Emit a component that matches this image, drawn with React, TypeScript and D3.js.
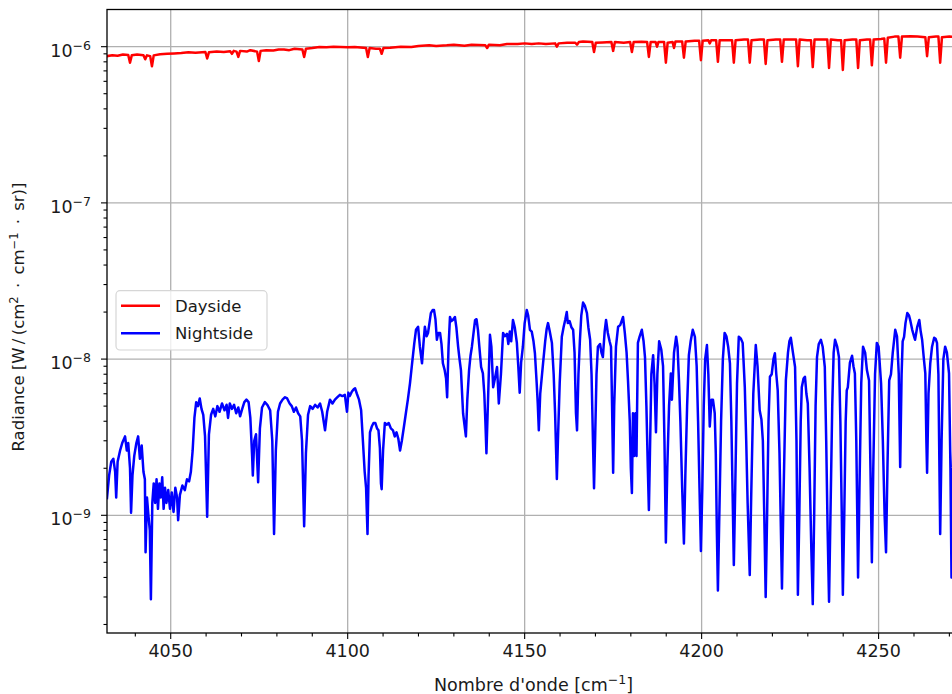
import React, { useRef, useEffect } from "react";
import * as d3 from "d3";

// Nombre d'onde [cm^-1], radiance [W / (cm2 . cm-1 . sr)]
const dayside: [number, number][] = [
  [4032.0, 8.7e-7], [4033.5, 8.8e-7], [4035.0, 8.75e-7], [4036.5, 8.9e-7], [4038.0, 8.85e-7],
  [4038.5, 7.9e-7], [4039.0, 8.8e-7], [4040.5, 8.9e-7], [4042.3, 8.8e-7], [4042.8, 8.3e-7],
  [4043.3, 8.8e-7], [4044.2, 8.7e-7], [4044.7, 7.5e-7], [4045.2, 8.8e-7], [4047, 8.95e-7],
  [4049, 9.0e-7], [4051, 9.05e-7], [4053, 9.1e-7], [4055, 9.2e-7], [4057, 9.15e-7],
  [4059.8, 9.25e-7], [4060.3, 8.4e-7], [4060.8, 9.2e-7], [4063, 9.3e-7], [4065, 9.25e-7],
  [4066.8, 9.35e-7], [4067.3, 9.0e-7], [4067.8, 9.4e-7], [4068.6, 9.3e-7], [4069.1, 8.6e-7],
  [4069.6, 9.4e-7], [4071.5, 9.3e-7], [4072.5, 9.5e-7], [4074.4, 9.3e-7], [4074.9, 8.1e-7],
  [4075.4, 9.4e-7], [4077, 9.5e-7], [4079, 9.45e-7], [4080.5, 9.6e-7], [4082, 9.6e-7],
  [4083.5, 9.5e-7], [4085, 9.7e-7], [4087.2, 9.6e-7], [4087.7, 8.6e-7], [4088.2, 9.7e-7],
  [4090, 9.8e-7], [4092, 9.95e-7], [4094, 9.9e-7], [4096, 1.0e-6], [4098, 9.95e-7],
  [4100, 9.9e-7], [4102, 9.95e-7], [4105.2, 9.8e-7], [4105.7, 8.6e-7], [4106.2, 9.8e-7],
  [4108, 9.7e-7], [4109.1, 9.7e-7], [4109.6, 9.0e-7], [4110.1, 9.8e-7], [4112, 9.85e-7],
  [4115, 1.0e-6], [4118, 9.95e-7], [4120, 1.01e-6], [4123, 1.02e-6], [4125, 1.01e-6],
  [4128, 1.02e-6], [4130, 1.03e-6], [4133, 1.015e-6], [4135, 1.03e-6], [4138.9, 1.02e-6],
  [4139.4, 9.8e-7], [4139.9, 1.03e-6], [4143, 1.02e-6], [4145, 1.04e-6], [4148, 1.04e-6],
  [4150, 1.05e-6], [4152, 1.04e-6], [4154, 1.05e-6], [4156, 1.04e-6], [4158.6, 1.05e-6],
  [4159.1, 1.0e-6], [4159.6, 1.05e-6], [4162, 1.06e-6], [4164.3, 1.06e-6], [4164.8, 1.03e-6],
  [4165.3, 1.07e-6], [4166.5, 1.08e-6], [4169.1, 1.07e-6], [4169.6, 9.25e-7], [4170.1, 1.06e-6],
  [4172, 1.065e-6], [4174.5, 1.07e-6], [4175.0, 9.4e-7], [4175.5, 1.07e-6], [4178, 1.06e-6],
  [4179.8, 1.07e-6], [4180.3, 9.25e-7], [4180.8, 1.07e-6], [4183, 1.075e-6], [4184.6, 1.07e-6],
  [4185.1, 8.6e-7], [4185.6, 1.07e-6], [4187.0, 1.07e-6], [4187.4, 1.0e-6], [4187.8, 1.07e-6],
  [4189.4, 1.07e-6], [4189.9, 7.9e-7], [4190.4, 1.06e-6], [4191.8, 1.07e-6], [4192.2, 9.8e-7],
  [4192.6, 1.08e-6], [4194.5, 1.08e-6], [4195.0, 8.5e-7], [4195.5, 1.08e-6], [4198, 1.09e-6],
  [4199.3, 1.09e-6], [4199.8, 8.2e-7], [4200.3, 1.09e-6], [4201.9, 1.1e-6], [4202.3, 1.05e-6],
  [4202.7, 1.1e-6], [4204.1, 1.1e-6], [4204.6, 8.0e-7], [4205.1, 1.1e-6], [4207.5, 1.1e-6],
  [4208.6, 1.1e-6], [4209.1, 7.9e-7], [4209.6, 1.1e-6], [4212, 1.11e-6], [4213.1, 1.11e-6],
  [4213.6, 7.9e-7], [4214.1, 1.1e-6], [4216.5, 1.11e-6], [4217.6, 1.11e-6], [4218.1, 7.75e-7],
  [4218.6, 1.1e-6], [4221, 1.11e-6], [4222.2, 1.11e-6], [4222.7, 8.0e-7], [4223.2, 1.11e-6],
  [4225.5, 1.11e-6], [4226.7, 1.11e-6], [4227.2, 7.5e-7], [4227.7, 1.11e-6], [4229.8, 1.1e-6],
  [4230.9, 1.1e-6], [4231.4, 7.4e-7], [4231.9, 1.11e-6], [4234.3, 1.11e-6], [4235.5, 1.11e-6],
  [4236.0, 7.3e-7], [4236.5, 1.11e-6], [4238.5, 1.1e-6], [4239.4, 1.1e-6], [4239.9, 7.1e-7],
  [4240.4, 1.1e-6], [4242.6, 1.11e-6], [4243.7, 1.11e-6], [4244.2, 7.3e-7], [4244.7, 1.1e-6],
  [4246.7, 1.11e-6], [4247.6, 1.11e-6], [4248.1, 7.6e-7], [4248.6, 1.11e-6], [4250.7, 1.12e-6],
  [4251.6, 1.13e-6], [4252.1, 7.9e-7], [4252.6, 1.14e-6], [4254.5, 1.16e-6], [4255.6, 1.16e-6],
  [4256.1, 8.5e-7], [4256.6, 1.16e-6], [4259, 1.165e-6], [4261, 1.16e-6], [4263.2, 1.15e-6],
  [4263.7, 8.7e-7], [4264.2, 1.15e-6], [4266.2, 1.16e-6], [4266.9, 1.16e-6], [4267.4, 7.9e-7],
  [4267.9, 1.15e-6], [4270, 1.16e-6], [4272.5, 1.15e-6],
];

const nightside: [number, number][] = [
  [4032.0, 1.29e-9], [4032.6, 1.8e-9], [4033.2, 2.2e-9], [4033.8, 2.3e-9], [4034.3, 1.9e-9],
  [4034.6, 1.3e-9], [4035.0, 2.2e-9], [4035.7, 2.6e-9], [4036.3, 2.9e-9], [4037.1, 3.2e-9],
  [4037.6, 2.6e-9], [4038.0, 2.9e-9], [4038.5, 2.0e-9], [4038.8, 1.04e-9], [4039.2, 1.8e-9],
  [4039.7, 2.4e-9], [4040.3, 2.9e-9], [4040.8, 3.2e-9], [4041.3, 2.3e-9], [4041.8, 2.8e-9],
  [4042.3, 1.9e-9], [4042.7, 1.7e-9], [4042.9, 5.8e-10], [4043.3, 1.3e-9], [4043.7, 1.0e-9],
  [4044.1, 8.0e-10], [4044.4, 2.9e-10], [4044.8, 1.2e-9], [4045.2, 1.6e-9], [4045.6, 1.2e-9],
  [4046.0, 1.7e-9], [4046.4, 1.1e-9], [4046.8, 1.6e-9], [4047.2, 1.3e-9], [4047.6, 1.75e-9],
  [4048.0, 1.1e-9], [4048.4, 1.5e-9], [4048.8, 1.2e-9], [4049.3, 1.45e-9], [4049.8, 1.1e-9],
  [4050.3, 1.4e-9], [4050.8, 1.05e-9], [4051.3, 1.5e-9], [4051.8, 1.3e-9], [4052.1, 9.3e-10],
  [4052.6, 1.35e-9], [4053.3, 1.55e-9], [4054.0, 1.45e-9], [4054.6, 1.7e-9], [4055.2, 1.65e-9],
  [4055.7, 1.9e-9], [4056.2, 2.6e-9], [4056.7, 4.2e-9], [4057.2, 5.3e-9], [4057.7, 5.0e-9],
  [4058.2, 5.6e-9], [4058.7, 4.8e-9], [4059.2, 4.4e-9], [4059.7, 3.2e-9], [4060.3, 9.8e-10],
  [4060.8, 3.3e-9], [4061.4, 4.4e-9], [4062.0, 4.8e-9], [4062.6, 4.3e-9], [4063.2, 5.0e-9],
  [4063.8, 4.6e-9], [4064.5, 5.2e-9], [4065.2, 4.7e-9], [4065.8, 5.1e-9], [4066.2, 4.2e-9],
  [4066.7, 5.2e-9], [4067.3, 4.8e-9], [4067.9, 5.1e-9], [4068.5, 4.5e-9], [4069.1, 4.9e-9],
  [4069.6, 4.3e-9], [4070.2, 4.8e-9], [4070.8, 5.3e-9], [4071.4, 5.5e-9], [4072.0, 5.3e-9],
  [4072.5, 4.2e-9], [4073.0, 2.4e-9], [4073.2, 1.8e-9], [4073.6, 3.0e-9], [4074.1, 3.3e-9],
  [4074.7, 1.63e-9], [4075.2, 3.6e-9], [4075.8, 4.9e-9], [4076.6, 5.3e-9], [4077.3, 5.1e-9],
  [4078.1, 4.7e-9], [4078.7, 3.0e-9], [4079.2, 7.6e-10], [4079.7, 2.6e-9], [4080.3, 4.6e-9],
  [4080.9, 5.2e-9], [4081.6, 5.5e-9], [4082.3, 5.7e-9], [4082.9, 5.6e-9], [4083.6, 5.2e-9],
  [4084.2, 5.0e-9], [4084.8, 4.6e-9], [4085.4, 4.9e-9], [4086.0, 4.5e-9], [4086.6, 4.3e-9],
  [4087.1, 3.0e-9], [4087.7, 8.5e-10], [4088.2, 2.5e-9], [4088.8, 4.4e-9], [4089.4, 5.0e-9],
  [4090.1, 4.8e-9], [4090.8, 5.1e-9], [4091.5, 4.9e-9], [4092.2, 5.2e-9], [4092.8, 4.6e-9],
  [4093.6, 3.5e-9], [4094.2, 4.6e-9], [4095.0, 5.5e-9], [4095.7, 5.2e-9], [4096.4, 5.5e-9],
  [4097.1, 5.7e-9], [4097.8, 5.9e-9], [4098.5, 5.8e-9], [4099.2, 5.9e-9], [4099.8, 4.6e-9],
  [4100.2, 6.1e-9], [4100.6, 5.8e-9], [4101.2, 6.2e-9], [4101.7, 6.4e-9], [4102.1, 6.5e-9],
  [4102.6, 6.0e-9], [4103.2, 5.5e-9], [4103.8, 4.7e-9], [4104.3, 3.0e-9], [4104.8, 1.9e-9],
  [4105.2, 1.5e-9], [4105.6, 7.6e-10], [4105.9, 1.8e-9], [4106.3, 3.4e-9], [4106.8, 3.7e-9],
  [4107.3, 3.9e-9], [4107.8, 3.9e-9], [4108.3, 3.6e-9], [4108.7, 3.5e-9], [4109.1, 2.7e-9],
  [4109.4, 1.6e-9], [4109.6, 1.47e-9], [4110.0, 2.6e-9], [4110.5, 3.9e-9], [4111.0, 3.8e-9],
  [4111.6, 3.9e-9], [4112.2, 3.6e-9], [4112.8, 3.5e-9], [4113.3, 3.2e-9], [4113.8, 3.4e-9],
  [4114.3, 3.1e-9], [4114.8, 2.6e-9], [4115.3, 3.0e-9], [4115.9, 3.7e-9], [4116.5, 4.6e-9],
  [4117.0, 5.5e-9], [4117.6, 7.0e-9], [4118.2, 9.4e-9], [4118.8, 1.25e-8], [4119.3, 1.54e-8],
  [4119.9, 1.61e-8], [4120.4, 1.2e-8], [4121.0, 9.4e-9], [4121.4, 1.25e-8], [4121.8, 1.61e-8],
  [4122.3, 1.4e-8], [4122.7, 1.47e-8], [4123.1, 1.7e-8], [4123.5, 1.97e-8], [4124.0, 2.06e-8],
  [4124.4, 2.06e-8], [4124.8, 1.8e-8], [4125.2, 1.33e-8], [4125.6, 1.47e-8], [4126.1, 1.47e-8],
  [4126.5, 1.25e-8], [4126.9, 9.4e-9], [4127.4, 8.5e-9], [4127.8, 7.5e-9], [4128.1, 5.7e-9],
  [4128.5, 1.2e-8], [4128.9, 1.86e-8], [4129.3, 1.75e-8], [4129.7, 1.78e-8], [4130.3, 1.86e-8],
  [4130.7, 1.6e-8], [4131.2, 1.2e-8], [4131.6, 1.0e-8], [4132.0, 8.5e-9], [4132.6, 4.5e-9],
  [4133.0, 3.8e-9], [4133.4, 3.2e-9], [4133.8, 5.5e-9], [4134.3, 8.5e-9], [4134.7, 1.05e-8],
  [4135.1, 1.2e-8], [4135.6, 1.5e-8], [4136.0, 1.78e-8], [4136.4, 1.8e-8], [4136.8, 1.54e-8],
  [4137.2, 1.2e-8], [4137.7, 8.9e-9], [4138.2, 8.1e-9], [4138.6, 6.0e-9], [4138.9, 4.0e-9],
  [4139.2, 2.5e-9], [4139.6, 5.0e-9], [4140.2, 1.43e-8], [4140.6, 1.2e-8], [4141.1, 6.6e-9],
  [4141.6, 7.5e-9], [4142.2, 8.9e-9], [4142.7, 5.2e-9], [4143.3, 8.0e-9], [4143.9, 1.47e-8],
  [4144.4, 1.4e-8], [4145.0, 1.45e-8], [4145.4, 1.25e-8], [4145.8, 1.5e-8], [4146.2, 1.3e-8],
  [4146.7, 1.78e-8], [4147.2, 1.6e-8], [4147.8, 1.27e-8], [4148.2, 9.0e-9], [4148.6, 6.1e-9],
  [4149.0, 9.5e-9], [4149.5, 1.2e-8], [4150.0, 1.7e-8], [4150.6, 2.06e-8], [4151.0, 1.9e-8],
  [4151.5, 1.54e-8], [4152.0, 1.5e-8], [4152.5, 1.3e-8], [4152.9, 1.09e-8], [4153.4, 7.0e-9],
  [4153.7, 5.2e-9], [4154.0, 3.5e-9], [4154.4, 6.0e-9], [4155.2, 9.4e-9], [4155.8, 1.3e-8],
  [4156.2, 1.55e-8], [4156.6, 1.7e-8], [4157.1, 1.5e-8], [4157.7, 1.27e-8], [4158.2, 8.0e-9],
  [4158.6, 4.5e-9], [4158.9, 2.5e-9], [4159.1, 1.71e-9], [4159.4, 3.0e-9], [4159.9, 7.0e-9],
  [4160.5, 1.39e-8], [4161.0, 1.6e-8], [4161.5, 1.8e-8], [4161.9, 2.0e-8], [4162.2, 1.7e-8],
  [4162.7, 1.75e-8], [4163.2, 1.6e-8], [4163.7, 1.54e-8], [4164.1, 1.1e-8], [4164.5, 4.5e-9],
  [4164.8, 3.5e-9], [4165.2, 8.0e-9], [4165.6, 1.3e-8], [4166.0, 1.9e-8], [4166.5, 2.3e-8],
  [4167.0, 2.2e-8], [4167.6, 1.97e-8], [4168.0, 1.6e-8], [4168.5, 1.33e-8], [4168.9, 8.0e-9],
  [4169.3, 3.0e-9], [4169.6, 1.49e-9], [4169.9, 3.0e-9], [4170.3, 8.0e-9], [4170.7, 1.2e-8],
  [4171.3, 1.25e-8], [4171.7, 1.1e-8], [4172.1, 1.03e-8], [4172.6, 1.5e-8], [4173.0, 1.78e-8],
  [4173.5, 1.47e-8], [4174.0, 1.3e-8], [4174.4, 1.2e-8], [4174.7, 5.0e-9], [4175.0, 1.87e-9],
  [4175.3, 5.0e-9], [4175.8, 1.2e-8], [4176.4, 1.61e-8], [4177.0, 1.65e-8], [4177.8, 1.86e-8],
  [4178.3, 1.47e-8], [4178.8, 1.1e-8], [4179.2, 7.3e-9], [4179.7, 4.0e-9], [4180.0, 2.0e-9],
  [4180.3, 1.39e-9], [4180.6, 4.5e-9], [4180.9, 2.4e-9], [4181.3, 4.5e-9], [4181.6, 2.4e-9],
  [4182.0, 1.27e-8], [4182.5, 1.4e-8], [4183.1, 1.54e-8], [4183.6, 1.3e-8], [4184.0, 1.03e-8],
  [4184.4, 5.0e-9], [4184.8, 2.0e-9], [4185.1, 1.08e-9], [4185.4, 2.5e-9], [4185.8, 8.0e-9],
  [4186.3, 1.06e-8], [4186.7, 7.0e-9], [4187.1, 3.4e-9], [4187.5, 8.0e-9], [4188.0, 1.3e-8],
  [4188.6, 1.15e-8], [4189.1, 9.0e-9], [4189.5, 3.0e-9], [4189.9, 6.7e-10], [4190.3, 2.0e-9],
  [4190.8, 5.0e-9], [4191.3, 8.1e-9], [4191.6, 5.5e-9], [4192.2, 1.1e-8], [4192.8, 1.39e-8],
  [4193.2, 1.2e-8], [4193.6, 7.3e-9], [4194.0, 4.0e-9], [4194.5, 1.5e-9], [4195.0, 6.6e-10],
  [4195.4, 1.8e-9], [4195.9, 5.0e-9], [4196.4, 1.06e-8], [4196.9, 1.3e-8], [4197.5, 1.54e-8],
  [4198.1, 1.39e-8], [4198.6, 9.0e-9], [4199.0, 4.0e-9], [4199.4, 1.5e-9], [4199.8, 5.9e-10],
  [4200.2, 1.5e-9], [4200.6, 5.0e-9], [4201.0, 1.0e-8], [4201.5, 1.23e-8], [4201.9, 8.0e-9],
  [4202.3, 3.7e-9], [4202.8, 5.5e-9], [4203.2, 5.5e-9], [4203.7, 4.5e-9], [4204.0, 2.5e-9],
  [4204.3, 8.0e-10], [4204.6, 3.3e-10], [4205.0, 1.0e-9], [4205.5, 4.0e-9], [4206.0, 1.0e-8],
  [4206.5, 1.47e-8], [4207.0, 1.4e-8], [4207.5, 1.2e-8], [4208.0, 9.4e-9], [4208.4, 4.0e-9],
  [4208.8, 1.2e-9], [4209.1, 4.8e-10], [4209.5, 1.5e-9], [4210.0, 7.0e-9], [4210.5, 1.39e-8],
  [4211.1, 1.35e-8], [4211.6, 1.27e-8], [4212.2, 6.6e-9], [4212.6, 3.0e-9], [4213.0, 1.2e-9],
  [4213.6, 4.15e-10], [4214.0, 1.3e-9], [4214.6, 6.0e-9], [4215.3, 1.23e-8], [4215.8, 9.0e-9],
  [4216.4, 4.7e-9], [4216.9, 4.1e-9], [4217.3, 3.0e-9], [4217.7, 1.0e-9], [4218.1, 3.0e-10],
  [4218.5, 1.0e-9], [4218.9, 4.0e-9], [4219.3, 7.7e-9], [4219.8, 8.0e-9], [4220.3, 1.0e-8],
  [4220.7, 1.09e-8], [4221.1, 8.0e-9], [4221.5, 6.3e-9], [4222.0, 2.5e-9], [4222.4, 8.0e-10],
  [4222.7, 3.4e-10], [4223.1, 1.2e-9], [4223.8, 7.3e-9], [4224.4, 1.1e-8], [4224.8, 1.3e-8],
  [4225.2, 1.37e-8], [4225.8, 1.1e-8], [4226.4, 8.9e-9], [4226.8, 3.0e-9], [4227.2, 3.1e-10],
  [4227.6, 1.0e-9], [4228.0, 4.0e-9], [4228.3, 6.6e-9], [4228.8, 7.5e-9], [4229.2, 7.7e-9],
  [4229.6, 6.0e-9], [4230.0, 5.2e-9], [4230.5, 2.0e-9], [4231.0, 6.0e-10], [4231.4, 2.7e-10],
  [4231.8, 1.0e-9], [4232.2, 5.0e-9], [4232.6, 1.03e-8], [4233.1, 1.25e-8], [4233.7, 1.33e-8],
  [4234.2, 1.2e-8], [4234.8, 8.9e-9], [4235.2, 3.0e-9], [4235.6, 8.0e-10], [4236.0, 2.8e-10],
  [4236.4, 1.0e-9], [4236.9, 5.0e-9], [4237.3, 1.1e-8], [4237.7, 1.33e-8], [4238.3, 1.2e-8],
  [4238.8, 1.03e-8], [4239.2, 4.0e-9], [4239.6, 1.0e-9], [4239.9, 3.1e-10], [4240.3, 1.0e-9],
  [4240.7, 4.0e-9], [4241.0, 6.3e-9], [4241.3, 6.6e-9], [4241.9, 9.5e-9], [4242.5, 1.05e-8],
  [4242.9, 9.0e-9], [4243.3, 8.1e-9], [4243.7, 3.0e-9], [4244.0, 9.0e-10], [4244.2, 4.0e-10],
  [4244.6, 1.5e-9], [4245.1, 7.0e-9], [4245.6, 1.2e-8], [4246.2, 1.1e-8], [4246.7, 8.5e-9],
  [4247.3, 7.3e-9], [4247.7, 2.0e-9], [4248.1, 5.0e-10], [4248.5, 2.0e-9], [4249.0, 8.0e-9],
  [4249.5, 1.27e-8], [4250.0, 1.2e-8], [4250.7, 7.0e-9], [4251.2, 3.0e-9], [4251.7, 1.0e-9],
  [4252.1, 5.8e-10], [4252.5, 2.0e-9], [4253.0, 7.3e-9], [4253.5, 8.0e-9], [4254.0, 1.1e-8],
  [4254.7, 1.54e-8], [4255.2, 1.4e-8], [4255.7, 8.0e-9], [4256.1, 2.04e-9], [4256.5, 8.0e-9],
  [4256.8, 1.3e-8], [4257.2, 1.39e-8], [4257.6, 1.7e-8], [4258.1, 1.97e-8], [4258.6, 1.9e-8],
  [4259.0, 1.75e-8], [4259.5, 1.54e-8], [4260.0, 1.4e-8], [4260.3, 1.33e-8], [4260.9, 1.6e-8],
  [4261.5, 1.78e-8], [4261.9, 1.5e-8], [4262.3, 1.33e-8], [4262.8, 1.0e-8], [4263.2, 8.1e-9],
  [4263.5, 3.0e-9], [4263.7, 1.87e-9], [4264.1, 6.0e-9], [4264.6, 9.4e-9], [4265.1, 1.2e-8],
  [4265.7, 1.37e-8], [4266.1, 1.35e-8], [4266.5, 1.27e-8], [4266.9, 8.0e-9], [4267.1, 3.0e-9],
  [4267.4, 7.6e-10], [4267.8, 3.0e-9], [4268.3, 1.0e-8], [4268.8, 1.2e-8], [4269.3, 1.1e-8],
  [4269.9, 8.1e-9], [4270.3, 2.0e-9], [4270.6, 4.0e-10], [4271.0, 2.0e-9], [4271.5, 8.0e-9],
  [4272.5, 1.2e-8],
];

const xTicks = [4050, 4100, 4150, 4200, 4250];
const yTickExps = [-6, -7, -8, -9];
const legendItems = [
  { label: "Dayside", color: "#ff0000" },
  { label: "Nightside", color: "#0000ff" },
];

const FONT = "'DejaVu Sans', sans-serif";
const TEXT = "#1a1a1a";

const App = () => {
  const svgRef = useRef<SVGSVGElement>(null);

  useEffect(() => {
    const svg = d3.select(svgRef.current);
    svg.selectAll("*").remove();

    const left = 107, right = 960, top = 9.5, bottom = 633;

    const x = d3.scaleLinear().domain([4032, 4273]).range([left, right]);
    const y = d3.scaleLog().domain([1.764e-10, 1.73e-6]).range([bottom, top]);

    svg.append("defs").append("clipPath").attr("id", "plotclip")
      .append("rect")
      .attr("x", left).attr("y", top)
      .attr("width", right - left).attr("height", bottom - top);

    // grid
    const grid = svg.append("g").attr("stroke", "#b0b0b0").attr("stroke-width", 1.3);
    xTicks.forEach(t => {
      grid.append("line").attr("x1", x(t)).attr("x2", x(t)).attr("y1", top).attr("y2", bottom);
    });
    yTickExps.forEach(e => {
      grid.append("line").attr("x1", left).attr("x2", right).attr("y1", y(10 ** e)).attr("y2", y(10 ** e));
    });

    // series
    const line = d3.line<[number, number]>()
      .x(d => x(d[0]))
      .y(d => y(d[1]));

    const plot = svg.append("g").attr("clip-path", "url(#plotclip)");
    [dayside, nightside].forEach((data, i) => {
      plot.append("path")
        .datum(data)
        .attr("fill", "none")
        .attr("stroke", legendItems[i].color)
        .attr("stroke-width", 2.5)
        .attr("stroke-linejoin", "round")
        .attr("stroke-linecap", "square")
        .attr("d", line);
    });

    // spines
    svg.append("rect")
      .attr("x", left).attr("y", top).attr("width", right - left).attr("height", bottom - top)
      .attr("fill", "none").attr("stroke", "#000").attr("stroke-width", 1.3);

    // ticks
    const ticks = svg.append("g").attr("stroke", "#000").attr("stroke-width", 1.1);
    d3.range(4040, 4273, 10).forEach(t => {
      const major = t % 50 === 0;
      ticks.append("line").attr("x1", x(t)).attr("x2", x(t))
        .attr("y1", bottom).attr("y2", bottom + (major ? 6 : 3.5));
    });
    for (let e = -10; e <= -6; e++) {
      for (let k = 1; k <= 9; k++) {
        const v = k * 10 ** e;
        if (v < 1.764e-10 || v > 1.73e-6) continue;
        ticks.append("line").attr("x1", left).attr("x2", left - (k === 1 ? 6 : 3.5))
          .attr("y1", y(v)).attr("y2", y(v));
      }
    }

    // tick labels
    xTicks.forEach(t => {
      svg.append("text")
        .attr("x", x(t)).attr("y", 657)
        .attr("text-anchor", "middle")
        .attr("font-family", FONT).attr("font-size", 17.5).attr("fill", TEXT)
        .text(t);
    });
    yTickExps.forEach(e => {
      const txt = svg.append("text")
        .attr("x", 91).attr("y", y(10 ** e) + 10)
        .attr("text-anchor", "end")
        .attr("font-family", FONT).attr("font-size", 17.5).attr("fill", TEXT);
      txt.append("tspan").text("10");
      txt.append("tspan").attr("dy", -7).attr("font-size", 12.5).text(`\u2212${Math.abs(e)}`);
    });

    // axis labels
    const xl = svg.append("text")
      .attr("x", (left + right) / 2).attr("y", 691)
      .attr("text-anchor", "middle")
      .attr("font-family", FONT).attr("font-size", 17.5).attr("fill", TEXT);
    xl.append("tspan").text("Nombre d'onde [cm");
    xl.append("tspan").attr("dy", -7).attr("font-size", 12.5).text("\u22121");
    xl.append("tspan").attr("dy", 7).text("]");

    const yl = svg.append("text")
      .attr("transform", "translate(24,317) rotate(-90)")
      .attr("text-anchor", "middle")
      .attr("font-family", FONT).attr("font-size", 16.5).attr("fill", TEXT);
    yl.append("tspan").text("Radiance [W\u2009/\u2009(cm");
    yl.append("tspan").attr("dy", -6).attr("font-size", 11.5).text("2");
    yl.append("tspan").attr("dy", 6).text("\u2002\u00b7\u2002cm");
    yl.append("tspan").attr("dy", -6).attr("font-size", 11.5).text("\u22121");
    yl.append("tspan").attr("dy", 6).text("\u2002\u00b7\u2002sr)]");

    // legend
    const lg = svg.append("g");
    lg.append("rect")
      .attr("x", 116).attr("y", 290.7).attr("width", 151).attr("height", 59.3)
      .attr("rx", 4)
      .attr("fill", "#fff").attr("fill-opacity", 0.8)
      .attr("stroke", "#d6d6d6").attr("stroke-width", 1.2);
    legendItems.forEach((item, i) => {
      const ly = 305.7 + i * 27.6;
      lg.append("line")
        .attr("x1", 121).attr("x2", 160).attr("y1", ly).attr("y2", ly)
        .attr("stroke", item.color).attr("stroke-width", 2.5);
      lg.append("text")
        .attr("x", 175).attr("y", ly + 6)
        .attr("font-family", FONT).attr("font-size", 16.5).attr("fill", TEXT)
        .text(item.label);
    });
  }, []);

  return (
    <svg
      ref={svgRef}
      width={952}
      height={694}
      style={{ position: "absolute", left: 0, top: 0, background: "#fff" }}
    />
  );
};

export default App;
